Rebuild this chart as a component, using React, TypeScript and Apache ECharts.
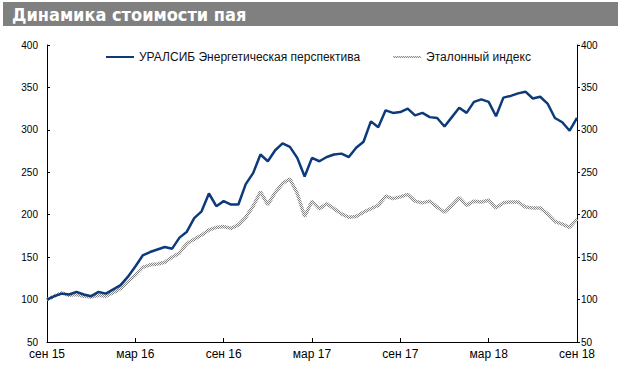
import React, { useEffect, useRef } from "react";
import * as echarts from "echarts";

// half-month steps from Sep 2015 to Sep 2018 (index / 2 = months since Sep 2015)
const monthLabels = ["сен 15", "мар 16", "сен 16", "мар 17", "сен 17", "мар 18", "сен 18"];

const uralsib = [
  100, 104, 107, 106, 109, 106, 104, 109, 107, 112,
  117, 127, 139, 152, 156, 159, 162, 160, 173, 180,
  196, 204, 225, 210, 216, 212, 212, 236, 249, 271,
  263, 276, 284, 280, 267, 245, 267, 263, 268, 271,
  272, 268, 279, 286, 310, 303, 323, 320, 321, 325,
  317, 320, 315, 314, 304, 315, 326, 320, 333, 336,
  333, 316, 338, 340, 343, 345, 337, 339, 331, 314,
  309, 299, 314,
];

const benchmark = [
  100, 104, 108, 105, 106, 104, 103, 105, 104, 108,
  113, 121, 129, 138, 141, 142, 144, 150, 155, 166,
  171, 176, 182, 185, 186, 184, 188, 197, 210, 227,
  212, 226, 237, 242, 225, 198, 216, 207, 213, 207,
  201, 197, 198, 203, 207, 211, 222, 219, 221, 224,
  216, 214, 216, 209, 203, 211, 220, 211, 216, 215,
  217, 208, 214, 215, 215, 209, 208, 208, 201, 192,
  189, 185, 195,
];

const seriesNames = ["УРАЛСИБ Энергетическая перспектива", "Эталонный индекс"];
const titleText = "Динамика стоимости пая";

export default function App() {
  const ref = useRef<HTMLDivElement>(null);
  useEffect(() => {
    document.body.style.margin = "0";
    if (!ref.current) return;
    const chart = echarts.init(ref.current, undefined, { renderer: "svg" });

    const cv = document.createElement("canvas");
    cv.width = 2;
    cv.height = 2;
    const ctx = cv.getContext("2d")!;
    ctx.fillStyle = "#f2f2f2";
    ctx.fillRect(0, 0, 2, 2);
    ctx.fillStyle = "#858585";
    ctx.fillRect(0, 0, 1, 1);
    ctx.fillRect(1, 1, 1, 1);
    const pattern: any = { image: cv, repeat: "repeat", imageWidth: 2, imageHeight: 2 };

    const toPairs = (arr: number[]) => arr.map((v, i) => [i / 2, v]);
    const font = "'Liberation Sans', Arial, sans-serif";

    const yAxisBase = {
      type: "value",
      min: 50,
      max: 400,
      interval: 50,
      splitLine: { show: false },
      axisLine: { show: true, lineStyle: { color: "#000", width: 1 } },
      axisTick: { show: true, inside: true, length: 3, lineStyle: { color: "#000" } },
      axisLabel: { color: "#000", fontSize: 10, fontFamily: font },
    };

    chart.setOption({
      animation: false,
      backgroundColor: "#fff",
      graphic: [
        { type: "rect", shape: { x: 3, y: 2, width: 615, height: 24 }, style: { fill: "#808080" } },
        {
          type: "text",
          x: 12,
          y: 14,
          style: {
            text: titleText,
            fill: "#fff",
            font: "bold 18px 'DejaVu Sans Condensed', 'DejaVu Sans', sans-serif",
            verticalAlign: "middle",
          },
        },
      ],
      grid: { left: 47, right: 41, top: 45, bottom: 23 },
      legend: {
        data: seriesNames,
        left: 100,
        top: 46,
        itemWidth: 28,
        itemHeight: 14,
        itemGap: 32,
        itemStyle: { opacity: 0 },
        textStyle: { color: "#111", fontSize: 12, fontFamily: font },
      },
      xAxis: {
        type: "value",
        min: 0,
        max: 36,
        interval: 6,
        splitLine: { show: false },
        axisLine: { lineStyle: { color: "#000" } },
        axisTick: { inside: true, length: 4, lineStyle: { color: "#000" } },
        axisLabel: {
          color: "#000",
          fontSize: 12,
          fontFamily: font,
          margin: 6,
          formatter: (v: number) => monthLabels[Math.round(v / 6)] ?? "",
        },
      },
      yAxis: [
        { ...yAxisBase, position: "left", axisLabel: { ...yAxisBase.axisLabel, margin: 9 } },
        {
          ...yAxisBase,
          position: "right",
          axisTick: { show: true, inside: false, length: 3, lineStyle: { color: "#000" } },
          axisLabel: { ...yAxisBase.axisLabel, margin: 4 },
        },
      ],
      series: [
        {
          name: seriesNames[1],
          type: "line",
          data: toPairs(benchmark),
          symbol: "none",
          lineStyle: { color: pattern, width: 3.5 },
          itemStyle: { color: "#999" },
        },
        {
          name: seriesNames[0],
          type: "line",
          data: toPairs(uralsib),
          symbol: "none",
          lineStyle: { color: "#0d3a7a", width: 2.5 },
          itemStyle: { color: "#0d3a7a" },
        },
      ],
    });
    return () => chart.dispose();
  }, []);
  return (
    <div
      ref={ref}
      style={{ position: "absolute", left: 0, top: 0, width: 618, height: 365 }}
    />
  );
}
